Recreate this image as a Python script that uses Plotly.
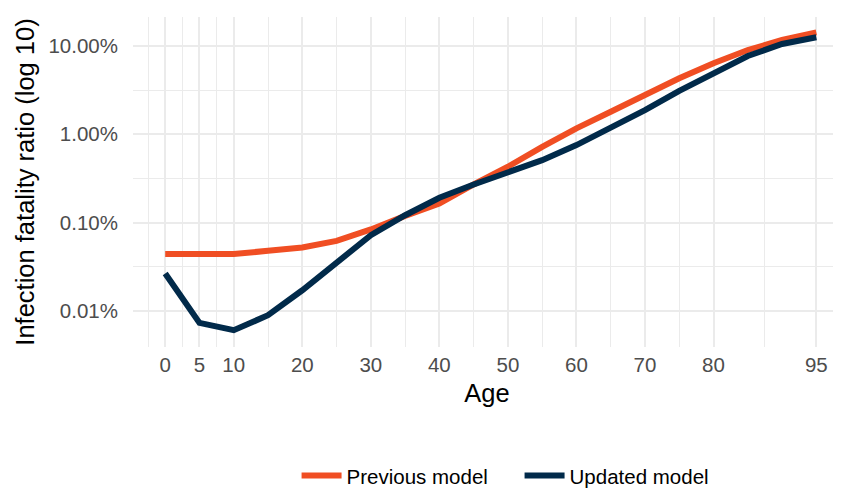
import plotly.graph_objects as go

ages = [0, 5, 10, 15, 20, 25, 30, 35, 40, 45, 50, 55, 60, 65, 70, 75, 80, 85, 90, 95]
previous_model = [0.000439, 0.000439, 0.000439, 0.000479, 0.000521, 0.000621, 0.000836, 0.00119,
                  0.00164, 0.00270, 0.00429, 0.00721, 0.01167, 0.0180, 0.0283, 0.0431,
                  0.0637, 0.0902, 0.117, 0.143]
updated_model = [0.000265, 0.0000730, 0.0000603, 0.0000891, 0.000171, 0.000358, 0.000719, 0.00121,
                 0.00191, 0.00270, 0.00366, 0.00509, 0.00755, 0.01167, 0.0188, 0.0311,
                 0.0499, 0.0771, 0.1054, 0.1256]

x_ticks = [0, 5, 10, 20, 30, 40, 50, 60, 70, 80, 95]
x_minor = [-2.5, 2.5, 7.5, 15, 25, 35, 45, 55, 65, 75, 87.5, 97.5]
y_ticks = [0.0001, 0.001, 0.01, 0.1]
y_ticktext = ["0.01%", "0.10%", "1.00%", "10.00%"]
y_minor = [10 ** -3.5, 10 ** -2.5, 10 ** -1.5]

ORANGE = "#F04E23"
NAVY = "#012A4A"
FONT = "Liberation Sans, Arial, sans-serif"

fig = go.Figure()
fig.add_trace(go.Scatter(x=ages, y=previous_model, mode="lines", name="Previous model",
                         line=dict(color=ORANGE, width=6)))
fig.add_trace(go.Scatter(x=ages, y=updated_model, mode="lines", name="Updated model",
                         line=dict(color=NAVY, width=6)))

fig.update_layout(
    width=833, height=480,
    margin=dict(l=125, r=0, t=9, b=141, autoexpand=False),
    plot_bgcolor="white", paper_bgcolor="white",
    font=dict(family=FONT, size=20.5, color="#4D4D4D"),
    showlegend=True,
    legend=dict(orientation="h", x=0.546, xanchor="center", y=-0.39, yanchor="middle",
                font=dict(size=20.5, color="black"), itemwidth=40, tracegroupgap=0,
                entrywidth=168, entrywidthmode="pixels"),
)
fig.update_xaxes(
    range=[-4.7, 98.6], tickmode="array", tickvals=x_ticks,
    showgrid=True, gridcolor="#EBEBEB", gridwidth=1.6, zeroline=False,
    ticks="", ticklabelstandoff=3, showline=False, automargin=False,
    minor=dict(tickmode="array", tickvals=x_minor, showgrid=True, gridcolor="#EBEBEB", gridwidth=0.8),
    title=dict(text="Age", font=dict(size=25.5, color="black"), standoff=9),
    tickfont=dict(size=20.5, color="#4D4D4D"),
)
fig.update_yaxes(
    type="log", range=[-4.41, -0.671], tickmode="array", tickvals=y_ticks, ticktext=y_ticktext,
    showgrid=True, gridcolor="#EBEBEB", gridwidth=1.6, zeroline=False,
    ticks="", ticklabelstandoff=14, showline=False, automargin=False,
    minor=dict(tickmode="array", tickvals=y_minor, showgrid=True, gridcolor="#EBEBEB", gridwidth=0.8),
    title=dict(text="Infection fatality ratio (log 10)", font=dict(size=25.5, color="black"), standoff=6),
    tickfont=dict(size=20.5, color="#4D4D4D"),
)

fig.write_html("out.html")
